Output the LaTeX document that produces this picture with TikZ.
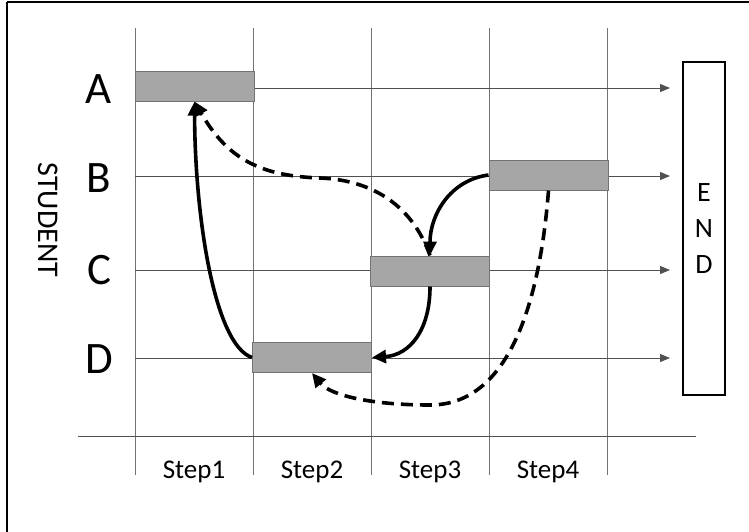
\documentclass[tikz,border=0pt]{standalone}
\usepackage{fontspec}
\setmainfont{Carlito}
\usepackage{tikz}
\usetikzlibrary{arrows.meta, positioning}
\definecolor{bargray}{rgb}{0.65, 0.65, 0.65}
\definecolor{gridgray}{rgb}{0.45, 0.45, 0.45}

\begin{document}
\begin{tikzpicture}[
    x=1pt, y=-1pt,
    every node/.style={font=\fontsize{27}{30}\selectfont, align=center, inner sep=0pt},
    bar/.style={rectangle, draw=gray!90!black, line width=1pt, fill=bargray, minimum width=119pt, minimum height=30pt},
    rowlabel/.style={font=\fontsize{45}{48}\selectfont},
    steplabel/.style={font=\fontsize{27}{30}\selectfont},
    endbox/.style={rectangle, draw=black, line width=1.6pt, fill=white, minimum width=42pt, minimum height=333pt, font=\fontsize{28}{36}\selectfont},
    gridline/.style={draw=gridgray, line width=1pt},
    rowline/.style={-{Triangle[length=10pt, width=8pt]}, draw=gridgray!70!black, line width=1pt},
    flow/.style={-{Triangle[length=14pt, width=13pt]}, line width=3.6pt},
    flowdash/.style={flow, dash pattern=on 12pt off 7pt}
]
\useasboundingbox (0,0) rectangle (749,531);

% Frame
\coordinate (frameTL) at (7,2);
\draw[line width=2.6pt] (frameTL) -- (frameTL |- 0,535);
\draw[line width=2.6pt] (frameTL) -- (frameTL -| 755,0);

% Columns
\coordinate (c0) at (135,28);
\coordinate (c1) at (253,28);
\coordinate (c2) at (371,28);
\coordinate (c3) at (489,28);
\coordinate (c4) at (607,28);
\draw[gridline] (c0) -- (c0 |- 0,475);
\draw[gridline] (c1) -- (c1 |- 0,475);
\draw[gridline] (c2) -- (c2 |- 0,475);
\draw[gridline] (c3) -- (c3 |- 0,475);
\draw[gridline] (c4) -- (c4 |- 0,475);

% Axis
\coordinate (axisL) at (78,436);
\coordinate (axisR) at (696,436);
\draw[gridline, draw=gridgray!70!black] (axisL) -- (axisR);

% Rows
\coordinate (rowA) at (135,88);
\coordinate (rowB) at (135,176);
\coordinate (rowC) at (135,270);
\coordinate (rowD) at (135,358);
\draw[rowline] (rowA) -- (rowA -| 670,0);
\draw[rowline] (rowB) -- (rowB -| 670,0);
\draw[rowline] (rowC) -- (rowC -| 670,0);
\draw[rowline] (rowD) -- (rowD -| 670,0);

% Labels
\node[rowlabel] (labA) at (99,89) {A};
\node[rowlabel] (labB) at (99,178) {B};
\node[rowlabel] (labC) at (99,270) {C};
\node[rowlabel] (labD) at (99,359) {D};
\node[rotate=-90, font=\fontsize{30}{32}\selectfont] (student) at (48,220) {STUDENT};

\node[steplabel] (step1) at (194,472) {Step1};
\node[steplabel] (step2) at (312,472) {Step2};
\node[steplabel] (step3) at (430,472) {Step3};
\node[steplabel] (step4) at (548,472) {Step4};

% End box
\node[endbox] (endbox) at (704,228.5) {E\\N\\D};

% Bars
\node[bar] (barA) at (194.5,86) {};
\node[bar] (barB) at (548.5,175) {};
\node[bar] (barC) at (430,271) {};
\node[bar] (barD) at (312,357.5) {};

% Moves
\draw[flow] (barD.west) .. controls (215,345) and (195,220) .. (barA.south);
\draw[flowdash] (barC.north) .. controls (412,205) and (372,180) .. (320,178) .. controls (262,176) and (228,160) .. (barA.south);
\draw[flow] (barB.west) .. controls (450,180) and (430,215) .. (barC.north);
\draw[flow] (barC.south) .. controls (430,330) and (410,355) .. (barD.east);
\draw[flowdash] (barB.south) .. controls (540,300) and (510,405) .. (430,405) .. controls (370,405) and (330,395) .. (barD.south);

\end{tikzpicture}
\end{document}
